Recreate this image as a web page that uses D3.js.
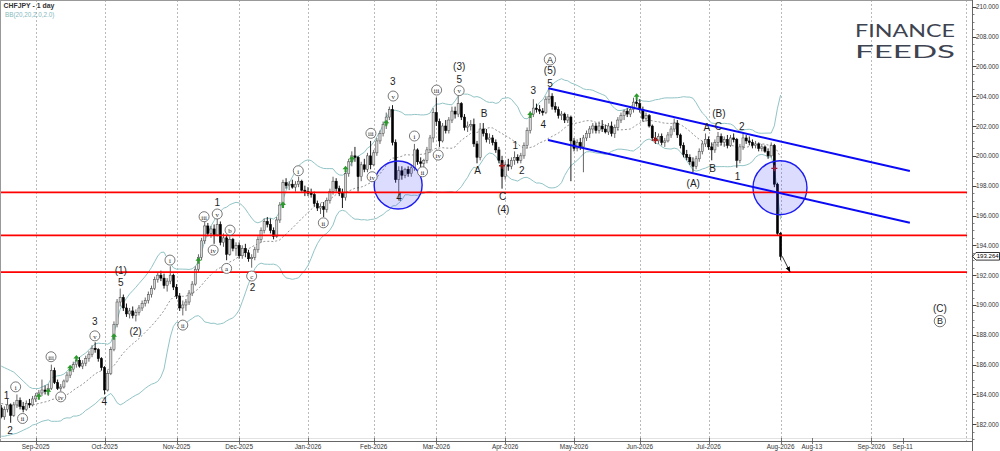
<!DOCTYPE html>
<html>
<head>
<meta charset="utf-8">
<script src="https://d3js.org/d3.v7.min.js"></script>
<style>
  body { margin: 0; background: #fff; }
  svg { display: block; font-family: "Liberation Sans", Arial, sans-serif; }
</style>
</head>
<body>
<div id="chart"></div>
<script>
// ----------------------------------------------------------------------
// DATA
// ----------------------------------------------------------------------
const chartTitle = "CHFJPY - 1 day";
const bbTitle = "BB(20,20,2.0,2.0)";

// bar index of the first candle (bar 0 = first bar of Sep-2025)
const firstBar = -11;

// daily candles [open, high, low, close]
const candles = [
  [183.1,183.3,182.4,182.5],[182.5,183.2,182.3,183.0],[183.0,183.7,182.8,183.3],[183.3,183.4,182.1,182.6],[182.6,183.5,182.5,183.3],
  [183.3,184.0,183.1,183.6],[183.6,183.8,183.0,183.2],[183.2,183.5,182.8,183.0],[183.0,183.6,182.9,183.4],[183.4,183.7,183.1,183.3],
  [183.3,183.9,183.2,183.7],
  // Sep-2025
  [183.7,184.1,183.5,183.9],[183.9,184.3,183.7,184.1],[184.1,185.0,183.9,184.3],[184.3,184.6,184.0,184.2],[184.2,184.7,183.9,184.4],
  [184.4,186.0,184.3,185.6],[185.6,185.8,184.7,184.8],[184.8,185.0,184.3,184.4],[184.4,184.7,184.2,184.5],[184.5,185.0,184.4,184.9],
  [184.9,185.5,184.8,185.3],[185.3,185.9,185.1,185.7],[185.7,186.2,185.5,186.0],[186.0,186.5,185.8,186.3],[186.3,186.5,185.8,185.9],
  [185.9,186.3,185.7,186.1],[186.1,186.6,185.9,186.4],[186.4,186.9,186.2,186.7],[186.7,187.3,186.5,187.1],[187.1,187.5,186.8,187.0],
  [187.0,187.1,186.2,186.4],[186.4,186.5,185.6,185.8],
  // Oct-2025
  [185.8,185.9,184.0,184.3],[184.3,185.6,184.2,185.4],[185.4,187.2,185.3,187.0],[187.0,188.9,186.9,188.7],[188.7,190.4,188.5,190.2],
  [190.2,191.1,189.9,190.5],[190.5,190.7,189.6,189.8],[189.8,190.1,189.2,189.4],[189.4,189.8,189.1,189.6],[189.6,189.9,189.1,189.3],
  [189.3,189.7,188.9,189.5],[189.5,190.0,189.3,189.8],[189.8,190.3,189.6,190.1],[190.1,190.5,189.9,190.3],[190.3,190.9,190.1,190.7],
  [190.7,191.3,190.5,191.1],[191.1,191.9,191.0,191.7],[191.7,192.2,191.5,192.0],[192.0,192.3,191.6,191.8],[191.8,192.1,191.1,191.3],
  [191.3,191.8,190.9,191.6],[191.6,192.6,191.4,192.0],[192.0,192.1,191.0,191.2],
  // Nov-2025
  [191.2,191.4,190.4,190.6],[190.6,190.8,189.6,189.8],[189.8,190.3,189.3,190.0],[190.0,190.4,189.6,190.2],[190.2,191.0,190.0,190.8],
  [190.8,191.6,190.6,191.4],[191.4,192.6,191.3,192.4],[192.4,193.4,192.2,193.2],[193.2,194.5,193.0,194.3],[194.3,195.6,194.1,195.3],
  [195.3,195.5,194.6,194.8],[194.8,195.3,194.5,195.1],[195.1,195.4,194.1,194.7],[194.7,195.8,194.6,195.4],[195.4,195.6,194.0,194.2],
  [194.2,194.8,193.9,194.5],[194.5,194.7,193.0,193.4],[193.4,194.6,193.3,194.4],[194.4,194.5,193.6,193.8],[193.8,194.2,193.3,194.0],
  // Dec-2025
  [194.0,194.2,193.1,193.3],[193.3,194.0,193.1,193.8],[193.8,194.1,193.2,193.5],[193.5,193.7,192.9,193.1],[193.1,193.4,192.5,193.2],
  [193.2,193.9,193.0,193.7],[193.7,194.6,193.5,194.4],[194.4,195.2,194.2,195.0],[195.0,195.8,194.8,195.6],[195.6,195.9,195.2,195.4],
  [195.4,195.8,194.8,195.0],[195.0,195.2,194.4,194.6],[194.6,195.9,194.5,195.7],[195.7,196.9,195.5,196.7],[196.7,198.4,196.5,198.2],
  [198.2,198.5,197.8,198.0],[198.0,198.3,197.7,198.1],[198.1,198.4,197.8,197.9],[197.9,198.3,197.6,198.1],[198.1,198.6,197.9,198.3],
  [198.3,198.4,197.6,197.7],[197.7,198.0,197.3,197.6],
  // Jan-2026
  [197.6,197.9,197.3,197.5],[197.5,197.8,197.2,197.4],[197.4,197.6,196.6,196.8],[196.8,197.0,196.3,196.5],[196.5,196.8,196.1,196.6],
  [196.6,196.9,195.9,196.4],[196.4,197.2,196.2,197.0],[197.0,197.8,196.8,197.6],[197.6,198.6,197.4,198.3],[198.3,198.5,197.6,197.8],
  [197.8,198.0,197.3,197.5],[197.5,197.8,196.5,197.2],[197.2,198.9,197.0,198.8],[198.8,199.8,198.6,199.6],[199.6,200.3,199.3,200.0],
  [200.0,200.6,199.6,199.9],[199.9,200.0,197.6,198.6],[198.6,199.6,198.3,199.4],[199.4,199.8,198.9,199.1],[199.1,200.2,198.9,200.0],
  [200.0,201.0,199.1,199.4],
  // Feb-2026
  [199.4,200.4,199.3,200.2],[200.2,201.2,200.0,201.0],[201.0,201.7,200.8,201.5],[201.5,202.3,201.3,202.1],[202.1,202.9,201.8,202.6],
  [202.6,203.3,202.4,203.1],[203.1,203.4,200.7,200.9],[200.9,201.1,198.2,198.4],[198.4,199.3,197.0,199.0],[199.0,199.3,198.4,198.7],
  [198.7,199.2,198.5,199.1],[199.1,199.3,198.6,198.8],[198.8,199.4,198.6,199.2],[199.2,200.8,199.0,200.4],[200.4,200.5,199.4,199.6],
  [199.6,199.9,199.1,199.5],[199.5,199.8,199.2,199.7],[199.7,200.6,199.5,200.4],[200.4,201.4,200.2,201.2],[201.2,203.2,200.9,202.9],
  // Mar-2026
  [202.9,203.9,202.0,202.3],[202.3,202.5,200.6,201.0],[201.0,202.2,200.9,202.0],[202.0,202.4,201.5,201.7],[201.7,202.6,201.5,202.4],
  [202.4,203.3,202.2,203.0],[203.0,203.3,202.5,202.8],[202.8,204.0,202.6,203.5],[203.5,203.6,202.4,202.6],[202.6,202.8,201.7,201.9],
  [201.9,202.3,201.6,202.0],[202.0,202.4,201.7,202.1],[202.1,202.5,200.6,200.8],[200.8,201.0,199.5,199.9],[199.9,202.2,199.7,201.8],
  [201.8,202.2,201.3,201.5],[201.5,201.8,200.9,201.1],[201.1,201.5,200.8,201.2],[201.2,201.4,200.7,200.9],[200.9,201.1,200.2,200.4],
  [200.4,200.6,199.5,199.7],[199.7,200.0,197.8,198.6],
  // Apr-2026
  [198.6,199.6,198.4,199.4],[199.4,199.8,199.0,199.3],[199.3,199.9,199.1,199.7],[199.7,200.3,199.4,199.9],[199.9,200.1,199.5,199.7],
  [199.7,200.2,199.5,200.0],[200.0,200.9,199.8,200.7],[200.7,201.9,200.5,201.7],[201.7,203.0,201.5,202.8],[202.8,203.8,202.6,203.2],
  [203.2,203.5,202.9,203.1],[203.1,203.4,202.8,203.0],[203.0,203.2,202.7,202.9],[202.9,204.0,202.8,203.8],[203.8,204.5,203.5,204.0],
  [204.0,204.2,203.1,203.3],[203.3,203.6,202.9,203.1],[203.1,203.3,202.5,202.7],[202.7,203.0,202.4,202.8],[202.8,202.9,202.2,202.4],
  [202.4,202.8,202.2,202.6],[202.6,202.7,198.3,201.0],
  // May-2026
  [201.0,201.2,200.3,200.5],[200.5,201.1,200.3,200.9],[200.9,201.2,200.4,200.6],[200.6,201.4,198.9,201.2],[201.2,201.7,201.0,201.5],
  [201.5,202.0,201.2,201.8],[201.8,202.2,201.5,202.0],[202.0,202.2,201.5,201.7],[201.7,202.3,201.5,202.0],[202.0,202.4,201.6,201.8],
  [201.8,202.1,201.5,201.6],[201.6,202.2,201.4,202.0],[202.0,202.3,201.3,201.5],[201.5,202.1,201.2,201.9],[201.9,202.6,201.7,202.4],
  [202.4,202.9,202.2,202.7],[202.7,203.1,202.4,203.0],[203.0,203.2,202.6,202.8],[202.8,203.3,202.6,203.1],[203.1,203.9,202.9,203.6],
  [203.6,204.1,203.3,203.5],
  // Jun-2026
  [203.5,203.8,202.9,203.1],[203.1,203.3,202.3,202.5],[202.5,202.9,202.3,202.7],[202.7,202.8,201.9,202.0],[202.0,202.1,201.0,201.2],
  [201.2,201.6,200.8,201.0],[201.0,201.5,200.8,201.3],[201.3,201.5,200.7,200.9],[200.9,201.2,200.6,201.0],[201.0,201.6,200.9,201.4],
  [201.4,202.0,201.2,201.8],[201.8,202.5,201.6,202.2],[202.2,202.4,201.2,201.4],[201.4,201.5,200.5,200.7],[200.7,200.9,199.9,200.1],
  [200.1,200.4,199.7,199.9],[199.9,200.1,199.4,199.6],[199.6,199.9,198.9,199.3],[199.3,200.0,199.1,199.8],[199.8,200.5,199.6,200.3],
  [200.3,201.0,200.1,200.8],[200.8,201.5,200.6,201.1],
  // Jul-2026
  [201.1,201.3,200.4,200.6],[200.6,200.9,199.7,200.4],[200.4,201.1,200.2,200.9],[200.9,201.6,200.6,201.3],[201.3,201.5,200.7,200.9],
  [200.9,201.3,200.6,201.1],[201.1,201.4,200.5,200.7],[200.7,201.4,200.6,201.2],[201.2,201.5,200.9,201.1],[201.1,201.2,199.2,199.7],
  [199.7,200.8,199.5,200.6],[200.6,201.5,200.4,201.2],[201.2,201.4,200.8,201.0],[201.0,201.3,200.7,200.9],[200.9,201.1,200.5,200.7],
  [200.7,201.0,200.5,200.8],[200.8,200.9,200.3,200.5],[200.5,200.8,200.3,200.6],[200.6,200.7,200.2,200.3],[200.3,200.5,199.8,200.0],
  [200.0,200.9,199.9,200.7],[200.7,200.8,197.9,198.1],[198.1,198.2,194.7,194.8],
  // Aug-2026
  [194.8,194.9,193.0,193.264]
];
const lastPrice = 193.264;

// Bollinger values of the first 19 bars (their 20-bar window starts before the chart)
const bbUpperStart = [185.9,185.8,185.7,185.6,185.5,185.3,185.1,184.9,184.7,184.5,184.4,184.4,184.4,184.5,184.6,184.7,185.1,185.2,185.25];
const bbMidStart   = [183.4,183.35,183.3,183.3,183.25,183.25,183.2,183.2,183.25,183.3,183.3,183.35,183.4,183.45,183.5,183.55,183.65,183.7,183.72];
const bbLowerStart = [181.2,181.2,181.25,181.3,181.35,181.4,181.5,181.6,181.7,181.8,181.95,182.0,182.1,182.2,182.25,182.3,182.2,182.2,182.2];

// time axis
const monthBars   = [0, 22, 45, 65, 87, 108, 128, 150, 172, 193, 215, 238, 267];
const monthLabels = ["Sep-2025","Oct-2025","Nov-2025","Dec-2025","Jan-2026","Feb-2026","Mar-2026",
                     "Apr-2026","May-2026","Jun-2026","Jul-2026","Aug-2026","Sep-2026"];
const dayBars   = [248, 277];
const dayLabels = ["Aug-13", "Sep-11"];

// price axis
const priceTicks = [182,184,186,188,190,192,194,196,198,200,202,204,206,208,210];

// drawn objects
const supportLevels = [197.55, 194.67, 192.21];
const channelTop    = [[163.8, 204.53], [279.3, 198.98]];
const channelBottom = [[163.7, 201.06], [279.3, 195.51]];
const zoneCentres   = [[115.8, 198.04], [237.8, 197.86]];
const projection    = [[238.5, 193.27], [241.0, 192.23]];

// signal marks [bar, price]
const upSignals = [[1,183.84],[4,184.18],[11,185.75],[13,186.42],[25,187.87],[52,192.96],
                   [79,196.7],[99,199.1],[101,199.77],[112,202.18],[158,202.74],[192,203.96]];
const crossSignals = [[149,199.34],[198,201.06],[236,199.16]];

// wave labels [bar, price, text]
const waveLabels = [
  [-9.3,183.96,"1"],[-8.2,181.61,"2"],[18.9,188.92,"3"],[21.9,183.51,"4"],[27.2,191.52,"5"],[27.2,192.34,"(1)"],
  [31.9,188.25,"(2)"],[58.0,196.88,"1"],[69.3,191.2,"2"],[114.1,204.97,"3"],[116.1,197.19,"4"],
  [135.3,205.98,"(3)"],[135.3,205.13,"5"],[141.2,199.0,"A"],[143.3,202.85,"B"],[149.2,197.26,"C"],[149.4,196.41,"(4)"],
  [153.2,200.72,"1"],[155.3,199.05,"2"],[159.0,204.37,"3"],[162.2,202.07,"4"],[164.3,204.86,"5"],[164.3,205.71,"(5)"],
  [210.1,198.16,"(A)"],[214.4,201.91,"A"],[218.3,202.85,"(B)"],[218.1,201.95,"C"],[216.3,199.16,"B"],
  [224.2,198.64,"1"],[225.6,201.95,"2"],[288.9,189.77,"(C)"]
];
const minorWaveLabels = [
  [-6.4,184.51,"i"],[-4.2,182.39,"ii"],[4.9,186.53,"iii"],[8.0,183.84,"iv"],[18.9,187.93,"v"],
  [42.9,193.01,"i"],[47.0,188.65,"ii"],[53.8,195.92,"iii"],[56.7,193.68,"iv"],[58.0,196.1,"v"],
  [61.0,192.45,"a"],[62.1,195.02,"b"],[69.0,191.94,"c"],
  [83.9,199.0,"i"],[91.9,195.51,"ii"],[107.1,201.51,"iii"],[107.5,198.6,"iv"],[114.2,204.01,"v"],
  [121.0,201.33,"i"],[123.6,198.93,"ii"],[128.1,204.41,"iii"],[128.6,200.05,"iv"],[135.3,204.37,"v"]
];
const majorWaveLabels = [[164.3,206.47,"A"],[288.9,188.92,"B"]];

// ----------------------------------------------------------------------
// LAYOUT
// ----------------------------------------------------------------------
const width = 1000;
const height = 451;
const plotRight = 967;
const axisX = 972.5;
const plotBottom = 441;

function createSvg() {
    const svg = d3.select("#chart").append("svg")
        .attr("width", width)
        .attr("height", height)
    svg.append("rect").attr("width", width).attr("height", height).attr("fill", "#fff")
    return svg
};

// bar index -> x, price -> y
const x = d3.scaleLinear().domain([0, 238]).range([35.7, 780.6]);
const y = d3.scaleLinear().domain([182, 210]).range([424.3, 6.7]);

// bollinger bands, 20 bars, 2 deviations
function bollinger(closes) {
    return closes.map((c, i) => {
        if (i < 19) return {up: bbUpperStart[i], mid: bbMidStart[i], lo: bbLowerStart[i]};
        const win = closes.slice(i - 19, i + 1);
        const mean = d3.mean(win);
        const sd = Math.sqrt(d3.mean(win, v => (v - mean) * (v - mean)));
        return {up: mean + 2 * sd, mid: mean, lo: mean - 2 * sd};
    });
};

// ----------------------------------------------------------------------
// DRAW
// ----------------------------------------------------------------------
const svg = createSvg();

svg.append("defs").append("clipPath").attr("id", "plot")
    .append("rect").attr("x", 0).attr("y", 0).attr("width", plotRight).attr("height", plotBottom)

const plot = svg.append("g").attr("clip-path", "url(#plot)")

// grid (month separators)
plot.selectAll(".grid").data(monthBars).enter().append("line")
    .attr("x1", d => Math.round(x(d)) + 0.5).attr("x2", d => Math.round(x(d)) + 0.5)
    .attr("y1", 0).attr("y2", plotBottom)
    .attr("stroke", "#a8a8a8").attr("stroke-width", 0.8).attr("stroke-dasharray", "2,2")
plot.append("line")
    .attr("x1", plotRight - 0.5).attr("x2", plotRight - 0.5).attr("y1", 0).attr("y2", plotBottom)
    .attr("stroke", "#a8a8a8").attr("stroke-width", 0.8).attr("stroke-dasharray", "2,2")

// bollinger bands
const bars = candles.map((c, i) => ({i: firstBar + i, o: c[0], h: c[1], l: c[2], c: c[3]}));
const bands = bollinger(bars.map(d => d.c));
bars.forEach((d, i) => { d.bb = bands[i]; });

const bandLine = key => d3.line().x(d => x(d.i)).y(d => y(d.bb[key]));
plot.append("path").datum(bars).attr("d", bandLine("up"))
    .attr("fill", "none").attr("stroke", "#92c4c6").attr("stroke-width", 1)
plot.append("path").datum(bars).attr("d", bandLine("lo"))
    .attr("fill", "none").attr("stroke", "#92c4c6").attr("stroke-width", 1)
plot.append("path").datum(bars).attr("d", bandLine("mid"))
    .attr("fill", "none").attr("stroke", "#7a7a7a").attr("stroke-width", 0.8).attr("stroke-dasharray", "2,2")

// candles
const candleG = plot.append("g")
candleG.selectAll(".wick").data(bars).enter().append("line")
    .attr("x1", d => x(d.i)).attr("x2", d => x(d.i))
    .attr("y1", d => y(d.h)).attr("y2", d => y(d.l))
    .attr("stroke", d => d.c >= d.o ? "#555" : "#000").attr("stroke-width", 0.9)
candleG.selectAll(".body").data(bars).enter().append("rect")
    .attr("x", d => x(d.i) - 1.1)
    .attr("width", 2.2)
    .attr("y", d => y(Math.max(d.o, d.c)))
    .attr("height", d => Math.max(0.8, Math.abs(y(d.o) - y(d.c))))
    .attr("fill", d => d.c >= d.o ? "#d6d6d6" : "#000")
    .attr("stroke", d => d.c >= d.o ? "#444" : "#000")
    .attr("stroke-width", 0.5)

// signals
plot.selectAll(".up").data(upSignals).enter().append("path")
    .attr("transform", d => `translate(${x(d[0])},${y(d[1])})`)
    .attr("d", "M0,-3.5 L3,0 L1,0 L1,3 L-1,3 L-1,0 L-3,0 Z")
    .attr("fill", "#2a9a2a")
plot.selectAll(".cross").data(crossSignals).enter().append("path")
    .attr("transform", d => `translate(${x(d[0])},${y(d[1])})`)
    .attr("d", "M-3,0 H3 M0,-3 V3")
    .attr("stroke", "#b01818").attr("stroke-width", 1.4)

// zones
const zoneRadius = [24, 27];
plot.selectAll(".zone").data(zoneCentres).enter().append("circle")
    .attr("cx", d => x(d[0])).attr("cy", d => y(d[1]))
    .attr("r", (d, i) => zoneRadius[i])
    .attr("fill", "rgba(40,40,255,0.16)").attr("stroke", "#1c1cf0").attr("stroke-width", 1.4)

// support levels
plot.selectAll(".level").data(supportLevels).enter().append("line")
    .attr("x1", 0).attr("x2", plotRight + 3)
    .attr("y1", d => y(d)).attr("y2", d => y(d))
    .attr("stroke", "#ff0000").attr("stroke-width", 1.8)

// channel
const segment = d3.line().x(d => x(d[0])).y(d => y(d[1]));
[channelTop, channelBottom].forEach(c => {
    plot.append("path").attr("d", segment(c))
        .attr("fill", "none").attr("stroke", "#0a0af5").attr("stroke-width", 2)
});

// projection arrow
svg.select("defs").append("marker")
    .attr("id", "head").attr("viewBox", "0 0 10 10").attr("refX", 9).attr("refY", 5)
    .attr("markerWidth", 7).attr("markerHeight", 7).attr("orient", "auto")
    .append("path").attr("d", "M0,1 L10,5 L0,9 Z").attr("fill", "#000")
plot.append("path").attr("d", segment(projection))
    .attr("stroke", "#000").attr("stroke-width", 0.8).attr("marker-end", "url(#head)")

// wave labels
plot.selectAll(".wave").data(waveLabels).enter().append("text")
    .attr("x", d => x(d[0])).attr("y", d => y(d[1]))
    .attr("text-anchor", "middle").attr("dominant-baseline", "central")
    .attr("font-size", 10).attr("fill", "#1e1e1e")
    .text(d => d[2])

const minor = plot.selectAll(".minor").data(minorWaveLabels).enter().append("g")
    .attr("transform", d => `translate(${x(d[0])},${y(d[1])})`)
minor.append("circle").attr("r", 5).attr("fill", "#fff").attr("stroke", "#555").attr("stroke-width", 0.8)
minor.append("text")
    .attr("text-anchor", "middle").attr("dominant-baseline", "central").attr("y", 0.3)
    .attr("font-family", "'Liberation Serif', 'DejaVu Serif', serif")
    .attr("font-size", 6.8).attr("fill", "#222")
    .text(d => d[2])

const major = plot.selectAll(".major").data(majorWaveLabels).enter().append("g")
    .attr("transform", d => `translate(${x(d[0])},${y(d[1])})`)
major.append("circle").attr("r", 5.7).attr("fill", "#fff").attr("stroke", "#555").attr("stroke-width", 0.8)
major.append("text")
    .attr("text-anchor", "middle").attr("dominant-baseline", "central").attr("y", 0.4)
    .attr("font-size", 9).attr("fill", "#222")
    .text(d => d[2])

// ----------------------------------------------------------------------
// AXES AND FRAME
// ----------------------------------------------------------------------
// frame
svg.append("line").attr("x1", 0).attr("x2", axisX).attr("y1", 0.5).attr("y2", 0.5).attr("stroke", "#999")
svg.append("line").attr("x1", 0.5).attr("x2", 0.5).attr("y1", 0).attr("y2", plotBottom).attr("stroke", "#999")
svg.append("line").attr("x1", 0).attr("x2", axisX).attr("y1", plotBottom - 2.5).attr("y2", plotBottom - 2.5).attr("stroke", "#e2e2e2")
svg.append("line").attr("x1", 0).attr("x2", axisX).attr("y1", plotBottom + 0.5).attr("y2", plotBottom + 0.5).attr("stroke", "#666")
svg.append("line").attr("x1", axisX).attr("x2", axisX).attr("y1", 0).attr("y2", height).attr("stroke", "#666")

// price axis
const yAxis = svg.append("g")
yAxis.selectAll(".minorTick").data(d3.range(181, 210.6, 0.5)).enter().append("line")
    .attr("x1", axisX).attr("x2", axisX + 2)
    .attr("y1", d => Math.round(y(d)) + 0.5).attr("y2", d => Math.round(y(d)) + 0.5)
    .attr("stroke", "#666").attr("stroke-width", 0.8)
yAxis.selectAll(".tick").data(priceTicks).enter().append("line")
    .attr("x1", axisX).attr("x2", axisX + 4)
    .attr("y1", d => Math.round(y(d)) + 0.5).attr("y2", d => Math.round(y(d)) + 0.5)
    .attr("stroke", "#444")
yAxis.selectAll(".label").data(priceTicks).enter().append("text")
    .attr("x", axisX + 3.5).attr("y", d => y(d))
    .attr("dominant-baseline", "central")
    .attr("font-size", 6.3).attr("fill", "#333")
    .text(d => d3.format(".3f")(d))

// last price marker
const py = y(lastPrice);
svg.append("path")
    .attr("d", `M${axisX},${py} L${axisX + 3.5},${py - 3.8} L999.5,${py - 3.8} L999.5,${py + 3.8} L${axisX + 3.5},${py + 3.8} Z`)
    .attr("fill", "#fff").attr("stroke", "#000").attr("stroke-width", 0.8)
svg.append("text")
    .attr("x", axisX + 4.2).attr("y", py)
    .attr("dominant-baseline", "central")
    .attr("font-size", 6).attr("fill", "#000")
    .attr("textLength", 22).attr("lengthAdjust", "spacingAndGlyphs")
    .text(d3.format(".3f")(lastPrice))

// time axis
const tBars = monthBars.concat(dayBars);
const tLabels = monthLabels.concat(dayLabels);
svg.selectAll(".tTick").data(tBars).enter().append("line")
    .attr("x1", d => Math.round(x(d)) + 0.5).attr("x2", d => Math.round(x(d)) + 0.5)
    .attr("y1", plotBottom - 3).attr("y2", plotBottom + 3)
    .attr("stroke", "#555").attr("stroke-width", 0.8)
svg.selectAll(".tLabel").data(tBars).enter().append("text")
    .attr("x", d => x(d)).attr("y", plotBottom + 5.8)
    .attr("text-anchor", "middle").attr("dominant-baseline", "central")
    .attr("font-size", 6.4).attr("fill", "#333")
    .text((d, i) => tLabels[i])

// header
svg.append("text").attr("x", 3.5).attr("y", 8.3)
    .attr("font-size", 6.9).attr("font-weight", "bold").attr("fill", "#333")
    .text(chartTitle)
svg.append("text").attr("x", 5).attr("y", 17.2)
    .attr("font-size", 6.3).attr("fill", "#86b9bd")
    .text(bbTitle)

// logo
const logo = svg.append("g").attr("fill", "#3d4350")
    .attr("font-family", "Lato, 'Open Sans', sans-serif")
logo.append("text").attr("x", 855).attr("y", 36.5).attr("font-size", 18)
    .attr("textLength", 100).attr("lengthAdjust", "spacingAndGlyphs").text("FINANCE")
logo.append("text").attr("x", 855).attr("y", 58).attr("font-size", 18)
    .attr("textLength", 100).attr("lengthAdjust", "spacingAndGlyphs").text("FEEDS")
</script>
</body>
</html>
